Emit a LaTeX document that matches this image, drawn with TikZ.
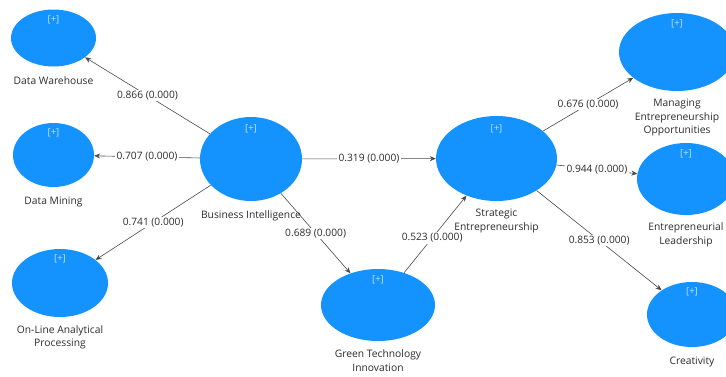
\documentclass[tikz,border=0pt]{standalone}
\usepackage{fontspec}
\setmainfont{Open Sans}
\usepackage{xcolor}
\definecolor{latentFill}{HTML}{1493FF}
\definecolor{pathLine}  {HTML}{4A4A4A}
\definecolor{labelText} {HTML}{2B2B2B}
\usetikzlibrary{arrows.meta, positioning, shapes.geometric}
\tikzset{
    latent/.style={ellipse, fill=latentFill, draw=none, inner sep=0pt},
    plustag/.style={font=\fontsize{9.5}{11}\selectfont,
                    text=white!75!latentFill, inner sep=1pt},
    conname/.style={font=\fontsize{10.3}{13.5}\selectfont, text=labelText,
                    align=center, inner sep=1pt},
    pathedge/.style={-{Stealth[length=6pt, width=5pt]}, pathLine,
                     line width=0.6pt},
    coef/.style={font=\fontsize{10.2}{12}\selectfont, text=labelText,
                 fill=white, inner sep=1.2pt},
}

\begin{document}
\begin{tikzpicture}[x=1pt, y=-1pt]
\clip (0,0) rectangle (726,376);

% --- first-order constructs (left) ---
\node[latent, minimum width=85pt, minimum height=57pt] (dw) at (53.5,38) {};
\node[plustag, below=5pt of dw.north] (dw-plus) {[+]};
\node[conname, below=9pt of dw] (dw-name) {Data Warehouse};

\node[latent, minimum width=81pt, minimum height=64pt] (dm) at (53.5,155) {};
\node[plustag, below=5pt of dm.north] (dm-plus) {[+]};
\node[conname, below=8.5pt of dm] (dm-name) {Data Mining};

\node[latent, minimum width=96pt, minimum height=68pt] (olap) at (60,283) {};
\node[plustag, below=5pt of olap.north] (olap-plus) {[+]};
\node[conname, below=7pt of olap] (olap-name) {On-Line Analytical\\Processing};

% --- second-order constructs ---
\node[latent, minimum width=102pt, minimum height=84pt] (bi) at (251,159) {};
\node[plustag, below=7pt of bi.north] (bi-plus) {[+]};
\node[conname, below=8.5pt of bi] (bi-name) {Business Intelligence};

\node[latent, minimum width=114pt, minimum height=72pt] (gti) at (378,305) {};
\node[plustag, below=6pt of gti.north] (gti-plus) {[+]};
\node[conname, below=7.5pt of gti] (gti-name) {Green Technology\\Innovation};

\node[latent, minimum width=121pt, minimum height=85pt] (se) at (496.5,158.5) {};
\node[plustag, below=8pt of se.north] (se-plus) {[+]};
\node[conname, below=7pt of se] (se-name) {Strategic\\Entrepreneurship};

% --- first-order constructs (right) ---
\node[latent, minimum width=116pt, minimum height=78pt] (meo) at (677,52) {};
\node[plustag, below=6pt of meo.north] (meo-plus) {[+]};
\node[conname, below=7pt of meo] (meo-name) {Managing\\Entrepreneurship\\Opportunities};

\node[latent, minimum width=98pt, minimum height=72pt] (el) at (686,179) {};
\node[plustag, below=6pt of el.north] (el-plus) {[+]};
\node[conname, below=6.5pt of el] (el-name) {Entrepreneurial\\Leadership};

\node[latent, minimum width=90pt, minimum height=65pt] (cr) at (692,314.5) {};
\node[plustag, below=5pt of cr.north] (cr-plus) {[+]};
\node[conname, below=8.5pt of cr] (cr-name) {Creativity};

% --- paths ---
\draw[pathedge] (bi) -- node[coef] {0.866 (0.000)} (dw);
\draw[pathedge] (bi) -- node[coef] {0.707 (0.000)} (dm);
\draw[pathedge] (bi) -- node[coef] {0.741 (0.000)} (olap);
\draw[pathedge] (bi) -- node[coef] {0.689 (0.000)} (gti);
\draw[pathedge] (bi) -- node[coef] {0.319 (0.000)} (se);
\draw[pathedge] (gti) -- node[coef, pos=0.45] {0.523 (0.000)} (se);
\draw[pathedge] (se) -- node[coef] {0.676 (0.000)} (meo);
\draw[pathedge] (se) -- node[coef] {0.944 (0.000)} (el);
\draw[pathedge] (se) -- node[coef] {0.853 (0.000)} (cr);
\end{tikzpicture}
\end{document}
